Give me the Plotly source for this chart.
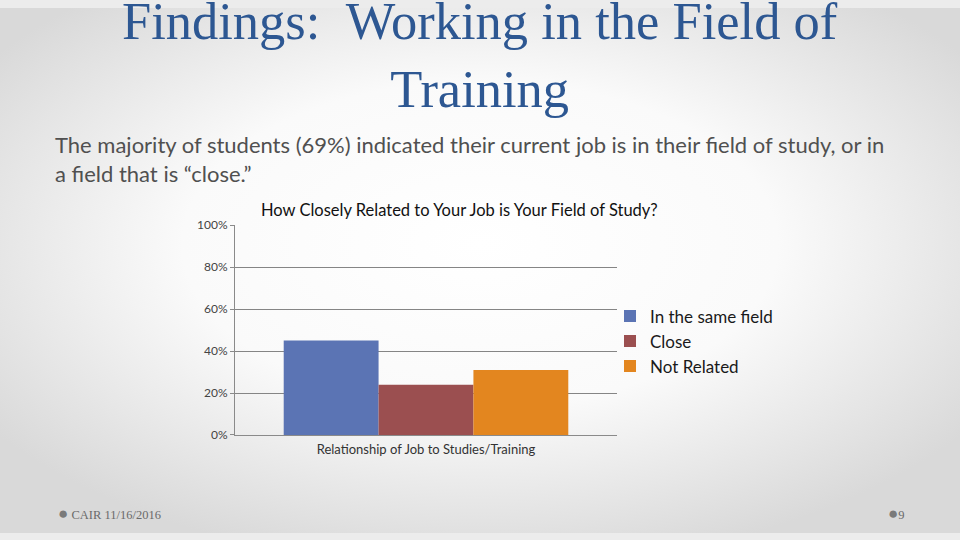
import plotly.graph_objects as go
import urllib.parse

# ---- data ----
category = ["Relationship of Job to Studies/Training"]
series_names = ["In the same field", "Close", "Not Related"]
series_values = [0.45, 0.24, 0.31]
series_colors = ["#5b74b4", "#9b4f50", "#e3861f"]
y_ticks = [0, 0.2, 0.4, 0.6, 0.8, 1.0]
y_tick_labels = ["0%", "20%", "40%", "60%", "80%", "100%"]

# map a target pixel row (in the 540-high picture) to a paper fraction
def fy(py):
    return 1 - (py - 6.4) / 527.0

fig = go.Figure()
for name, val, col in zip(series_names, series_values, series_colors):
    fig.add_trace(go.Bar(x=category, y=[val], name=name, marker=dict(color=col, line=dict(width=0))))

# background radial gradient (slide look)
svg = ('<svg xmlns="http://www.w3.org/2000/svg" width="960" height="540" preserveAspectRatio="none">'
       '<defs><radialGradient id="g" cx="50%" cy="45%" r="62%">'
       '<stop offset="0%" stop-color="#ffffff"/><stop offset="50%" stop-color="#fafafa"/>'
       '<stop offset="100%" stop-color="#d9d9d9"/></radialGradient></defs>'
       '<rect width="960" height="540" fill="url(#g)"/></svg>')
bg_src = "data:image/svg+xml;charset=utf-8," + urllib.parse.quote(svg)

bullet = "<span style='font-size:17px;color:#7a7a7a'>●</span>"

fig.update_layout(
    autosize=True,
    margin=dict(l=0, r=0, t=0, b=0),
    paper_bgcolor="#ececec",
    plot_bgcolor="rgba(0,0,0,0)",
    barmode="group",
    bargap=0.255,
    bargroupgap=0,
    showlegend=True,
    legend=dict(x=610/960, y=fy(341), xanchor="left", yanchor="middle",
                font=dict(family="Lato, Liberation Sans", size=17, color="#1a1a1a"),
                bgcolor="rgba(0,0,0,0)", itemwidth=30, tracegroupgap=0),
    images=[dict(source=bg_src, xref="paper", yref="paper", x=0, y=1, sizex=1, sizey=1,
                 xanchor="left", yanchor="top", sizing="stretch", layer="below")],
    xaxis=dict(domain=[0.2448, 0.6427], showline=True, linecolor="#8a8a8a", linewidth=1,
               ticks="", ticklabelstandoff=2,
               tickfont=dict(family="Lato, Liberation Sans", size=13, color="#333"),
               showgrid=False, fixedrange=True),
    yaxis=dict(domain=[fy(435), fy(224.5)], range=[0, 1], tickvals=y_ticks, ticktext=y_tick_labels,
               showline=True, linecolor="#8a8a8a", linewidth=1, ticks="outside", ticklen=4,
               tickcolor="#8a8a8a", showgrid=True, gridcolor="#858585", gridwidth=1,
               tickfont=dict(family="Lato, Liberation Sans", size=12, color="#444"),
               zeroline=False, fixedrange=True),
    annotations=[
        dict(text="Findings:  Working in the Field of<br>Training", x=0.5, y=1.035, xref="paper", yref="paper",
             xanchor="center", yanchor="top", showarrow=False, align="center",
             font=dict(family="Liberation Serif, DejaVu Serif", size=52.5, color="#2d5792")),
        dict(text="The majority of students (69%) indicated their current job is in their field of study, or in<br>a field that is “close.”",
             x=53/960, y=0.7687, xref="paper", yref="paper", xanchor="left", yanchor="top",
             showarrow=False, align="left",
             font=dict(family="Lato, Liberation Sans", size=22, color="#505050")),
        dict(text="How Closely Related to Your Job is Your Field of Study?", x=459/960, y=fy(209),
             xref="paper", yref="paper", xanchor="center", yanchor="middle", showarrow=False,
             font=dict(family="Lato, Liberation Sans", size=16.5, color="#111")),
        dict(text=bullet + " CAIR 11/16/2016", x=56/960, y=fy(514), xref="paper", yref="paper",
             xanchor="left", yanchor="middle", showarrow=False,
             font=dict(family="Liberation Serif", size=12.5, color="#6a6a6a")),
        dict(text=bullet + "9", x=886/960, y=fy(514), xref="paper", yref="paper",
             xanchor="left", yanchor="middle", showarrow=False,
             font=dict(family="Liberation Serif", size=12.5, color="#6a6a6a")),
    ],
)

css_js = ("document.documentElement.style.margin='0';document.documentElement.style.overflow='hidden';"
          "document.body.style.margin='0';document.body.style.overflow='hidden';"
          "var gd=document.getElementById('{plot_id}');gd.style.width='100vw';gd.style.height='100vh';"
          "Plotly.Plots.resize(gd);")
fig.write_html("out.html", config={"displayModeBar": False, "responsive": True},
               default_width="100vw", default_height="100vh", post_script=css_js)
